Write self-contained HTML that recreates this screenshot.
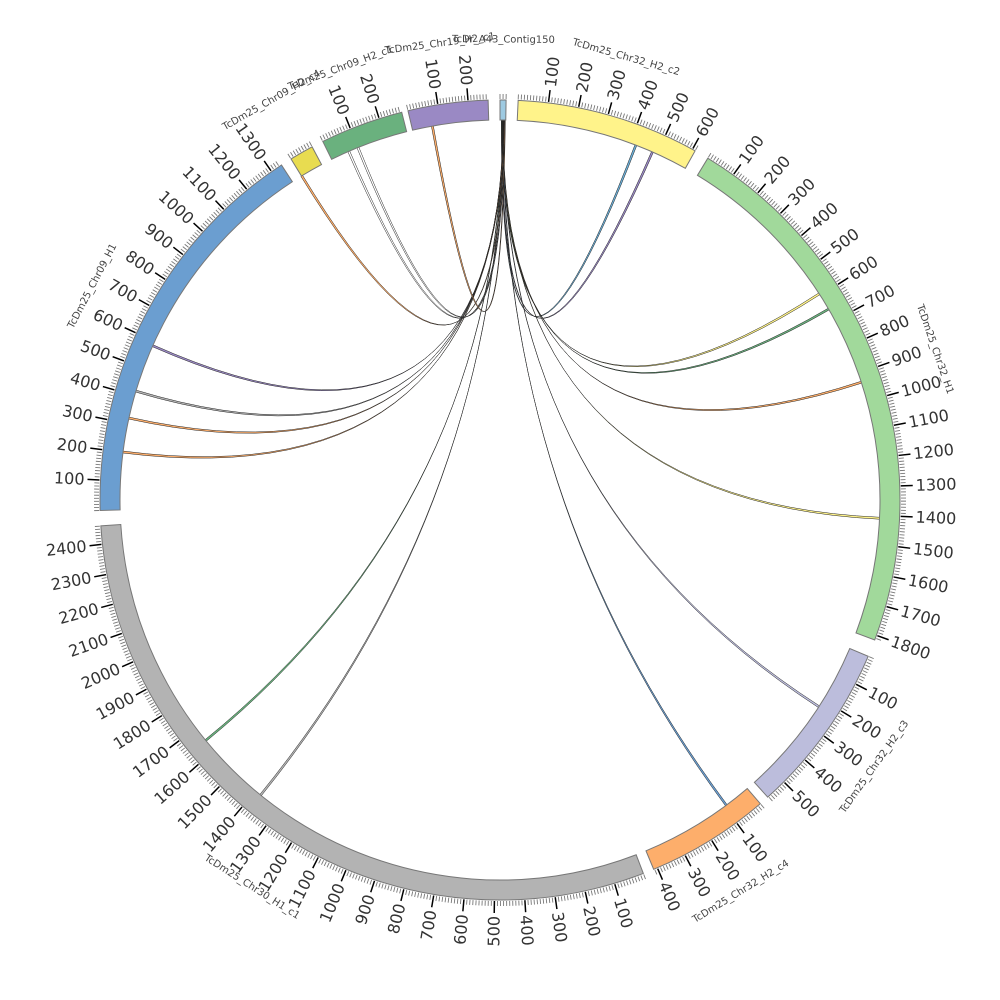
<!DOCTYPE html>
<html><head><meta charset="utf-8"><style>
html,body{margin:0;padding:0;background:#fff}
svg{display:block}
text{font-family:"DejaVu Sans","Liberation Sans",sans-serif}
</style></head><body>
<svg id="s" width="1000" height="1000" viewBox="0 0 1000 1000"></svg>
<script>
const S=document.getElementById('s');
const cx=500,cy=500,R0=380,R1=400,K=0.0436;
const segs=[
 {name:"TcDr_A43_Contig150",a:0.0,len:20,c:"#9ecae1"},
 {name:"TcDm25_Chr32_H2_c2",a:2.6,len:610,c:"#fff38a"},
 {name:"TcDm25_Chr32_H1",a:31.3,len:1816,c:"#a1d99b"},
 {name:"TcDm25_Chr32_H2_c3",a:113,len:573,c:"#bcbddc"},
 {name:"TcDm25_Chr32_H2_c4",a:139.4,len:413,c:"#fdae6b"},
 {name:"TcDm25_Chr30_H1_c1",a:159,len:2461,c:"#b3b3b3"},
 {name:"TcDm25_Chr09_H1",a:268.5,len:1339,c:"#6b9ed0"},
 {name:"TcDm25_Chr09_H2_c4",a:328.5,len:80,c:"#e8dc50"},
 {name:"TcDm25_Chr09_H2_c1",a:333.7,len:277,c:"#6ab17e"},
 {name:"TcDm25_Chr19_H2_c1",a:346.7,len:266,c:"#9a89c4"}
];
function P(r,t){const a=(t-90)*Math.PI/180;return [cx+r*Math.cos(a),cy+r*Math.sin(a)];}
function f(p){return p[0].toFixed(2)+","+p[1].toFixed(2);}
let h="";
const links=[[1,20.8,"#6baed6"],[1,23.5,"#9a89c4"],[2,57,"#fff38a"],[2,59.7,"#6ab17e"],[2,71.8,"#fdae6b"],[2,92.6,"#fff38a"],
[3,122.8,"#bcbddc"],[4,143.3,"#6b9ed0"],[5,230.6,"#6ab17e"],[5,218.9,"#b3b3b3"],[6,293.8,"#9a89c4"],[6,286.5,"#b3b3b3"],
[6,282.3,"#fdae6b"],[6,277.1,"#fdae6b"],[7,328.4,"#fdae6b"],[8,336.4,"#ffffff"],[8,337.9,"#ffffff"],[9,349.6,"#fdae6b"]];
links.forEach((l,i)=>{
 const s0=0.2+0.03*(i%18),s1=s0+0.1;const t0=l[1],t1=l[1]+0.3;
 const C=[cx,cy];
 const a1=P(R0,s0),a2=P(R0,s1),b1=P(R0,t0),b2=P(R0,t1);
 h+=`<path d="M${f(a1)} Q${f(C)} ${f(b1)} A${R0},${R0} 0 0 1 ${f(b2)} Q${f(C)} ${f(a2)} Z" fill="${l[2]}" stroke="#222" stroke-width="0.5"/>`;
});
segs.forEach(sg=>{
 const e=sg.a+sg.len*K;
 const p1=P(R1,sg.a),p2=P(R1,e),p3=P(R0,e),p4=P(R0,sg.a);const lg=(e-sg.a)>180?1:0;
 h+=`<path d="M${f(p1)} A${R1},${R1} 0 ${lg} 1 ${f(p2)} L${f(p3)} A${R0},${R0} 0 ${lg} 0 ${f(p4)} Z" fill="${sg.c}" stroke="#777" stroke-width="1"/>`;
 for(let u=0;u<=sg.len;u+=10){
  const t=sg.a+u*K;const maj=u%100==0&&u>0;
  const q1=P(R1+1,t),q2=P(maj?R1+13:R1+6,t);
  h+=`<line x1="${q1[0].toFixed(2)}" y1="${q1[1].toFixed(2)}" x2="${q2[0].toFixed(2)}" y2="${q2[1].toFixed(2)}" stroke="${maj?'#000':'#777'}" stroke-width="${maj?1.5:0.9}"/>`;
  if(maj){
   const q=P(R1+16,t);
   if(t<180) h+=`<text x="${q[0].toFixed(2)}" y="${q[1].toFixed(2)}" font-size="16" fill="#333" dominant-baseline="central" text-anchor="start" transform="rotate(${(t-90).toFixed(2)} ${q[0].toFixed(2)} ${q[1].toFixed(2)})">${u}</text>`;
   else h+=`<text x="${q[0].toFixed(2)}" y="${q[1].toFixed(2)}" font-size="16" fill="#333" dominant-baseline="central" text-anchor="end" transform="rotate(${(t-270).toFixed(2)} ${q[0].toFixed(2)} ${q[1].toFixed(2)})">${u}</text>`;
  }
 }
 const m=(sg.a+e)/2;const q=P(460,m);let rot=m;if(m>90&&m<270)rot=m-180;
 h+=`<text x="${q[0].toFixed(2)}" y="${q[1].toFixed(2)}" font-size="10" fill="#444" text-anchor="middle" dominant-baseline="central" transform="rotate(${rot.toFixed(2)} ${q[0].toFixed(2)} ${q[1].toFixed(2)})">${sg.name}</text>`;
});
S.innerHTML=h;
</script>
</body></html>
